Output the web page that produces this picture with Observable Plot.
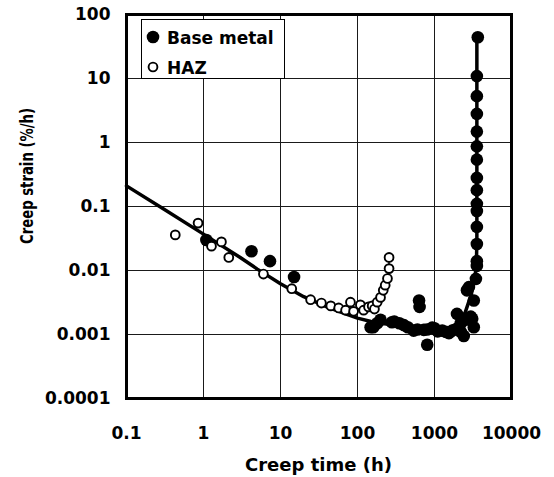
<!DOCTYPE html>
<html>
<head>
<meta charset="utf-8">
<script src="https://cdn.jsdelivr.net/npm/d3@7"></script>
<script src="https://cdn.jsdelivr.net/npm/@observablehq/plot@0.6"></script>
<style>
  html, body { margin: 0; padding: 0; background: white; }
  #wrap { position: relative; width: 554px; height: 477px; }
  #legend { position: absolute; left: 141px; top: 19px; }
</style>
</head>
<body>
<div id="wrap"></div>
<script>
// ---- data ----
const baseTime = [1.09, 4.2, 7.3, 15, 148, 160, 180, 199, 280, 300, 350, 400, 450, 536, 600, 630, 640, 727, 804, 800, 935, 1000, 1100, 1260, 1400, 1540, 1700, 1960, 2000, 2190, 2200, 2400, 2520, 2640, 2800, 2960, 3090, 3240, 3240, 3450, 3550, 3550, 3550, 3550, 3550, 3550, 3550, 3550, 3550, 3550, 3550, 3550, 3550, 3550, 3650];
const baseStrain = [0.030, 0.020, 0.014, 0.0079, 0.0013, 0.0013, 0.0015, 0.0017, 0.00155, 0.0016, 0.0015, 0.0014, 0.0013, 0.00115, 0.0012, 0.0034, 0.0027, 0.00118, 0.00069, 0.0012, 0.00128, 0.00125, 0.00112, 0.00115, 0.0011, 0.00105, 0.00115, 0.0021, 0.0012, 0.0015, 0.0011, 0.00095, 0.0017, 0.0049, 0.0055, 0.0019, 0.00176, 0.0034, 0.0013, 0.0074, 0.0118, 0.014, 0.026, 0.048, 0.085, 0.11, 0.18, 0.28, 0.54, 0.87, 1.48, 2.8, 5.3, 10.9, 44];

const hazTime = [0.43, 0.85, 1.27, 1.71, 2.13, 6.0, 14, 24.6, 34, 45, 57, 70, 81, 89, 109, 120, 139, 155, 166, 180, 199, 216, 229, 245, 257, 257];
const hazStrain = [0.036, 0.055, 0.024, 0.028, 0.016, 0.0088, 0.0052, 0.0035, 0.0031, 0.0028, 0.0026, 0.0024, 0.0032, 0.0023, 0.0029, 0.0024, 0.0027, 0.0028, 0.0025, 0.0032, 0.0038, 0.0049, 0.0059, 0.0075, 0.0107, 0.016];

const fitTime = [0.1, 0.3, 1, 3, 5, 10, 20, 40, 70, 100, 150, 200, 400, 700, 1000, 1500, 2000, 2500, 3000, 3300, 3500, 3550, 3550, 3550, 3550];
const fitStrain = [0.21, 0.092, 0.037, 0.016, 0.0105, 0.0062, 0.0039, 0.0027, 0.0021, 0.0018, 0.0016, 0.0015, 0.00135, 0.00125, 0.0012, 0.00125, 0.0015, 0.0022, 0.0042, 0.007, 0.012, 0.03, 1, 10, 44];

const hazFitTime = [30, 60, 100, 150, 190, 220, 240, 255, 258];
const hazFitStrain = [0.0029, 0.0025, 0.0024, 0.0026, 0.0032, 0.0045, 0.0065, 0.010, 0.018];

const xTicks = [0.1, 1, 10, 100, 1000, 10000];
const xTickLabels = ["0.1", "1", "10", "100", "1000", "10000"];
const yTicks = [0.0001, 0.001, 0.01, 0.1, 1, 10, 100];
const yTickLabels = ["0.0001", "0.001", "0.01", "0.1", "1", "10", "100"];

const seriesNames = ["Base metal", "HAZ"];
const xTitle = "Creep time (h)";
const yTitle = "Creep strain (%/h)";

// ---- tables ----
const base = baseTime.map((t, i) => ({t, s: baseStrain[i]}));
const haz = hazTime.map((t, i) => ({t, s: hazStrain[i]}));
const fit = fitTime.map((t, i) => ({t, s: fitStrain[i]}));
const hazFit = hazFitTime.map((t, i) => ({t, s: hazFitStrain[i]}));
const xLab = new Map(xTicks.map((d, i) => [d, xTickLabels[i]]));
const yLab = new Map(yTicks.map((d, i) => [d, yTickLabels[i]]));

const font = "'DejaVu Sans', sans-serif";

const chart = Plot.plot({
  width: 554,
  height: 477,
  marginLeft: 126,
  marginRight: 43,
  marginTop: 14,
  marginBottom: 79,
  style: {fontFamily: font, fontWeight: "bold", fontSize: "17px", color: "black", background: "white", overflow: "visible"},
  x: {type: "log", domain: [0.1, 10000]},
  y: {type: "log", domain: [0.0001, 100]},
  marks: [
    Plot.gridX(xTicks, {stroke: "#1a1a1a", strokeOpacity: 1, strokeWidth: 1}),
    Plot.gridY(yTicks, {stroke: "#1a1a1a", strokeOpacity: 1, strokeWidth: 1}),
    Plot.line(hazFit, {x: "t", y: "s", stroke: "black", strokeWidth: 1.5}),
    Plot.line(fit, {x: "t", y: "s", stroke: "black", strokeWidth: 3.5, strokeLinejoin: "round"}),
    Plot.dot(base, {x: "t", y: "s", r: 6.3, fill: "black", stroke: "none"}),
    Plot.dot(haz, {x: "t", y: "s", r: 4.4, fill: "white", stroke: "black", strokeWidth: 1.9}),
    Plot.frame({stroke: "black", strokeWidth: 3}),
    Plot.axisX(xTicks, {tickSize: 0, tickPadding: 28, tickFormat: d => xLab.get(d), label: null, fontSize: 17, fontWeight: "bold"}),
    Plot.axisY(yTicks, {tickSize: 0, tickPadding: 16, tickFormat: d => yLab.get(d), label: null, fontSize: 17, fontWeight: "bold"})
  ]
});

const svg = d3.select(chart);
svg.append("text")
  .attr("x", 318.5).attr("y", 471)
  .attr("text-anchor", "middle")
  .attr("font-family", font).attr("font-weight", "bold").attr("font-size", 18)
  .attr("fill", "black")
  .text(xTitle);
svg.append("text")
  .attr("transform", "translate(33,176) rotate(-90)")
  .attr("text-anchor", "middle")
  .attr("textLength", 136).attr("lengthAdjust", "spacingAndGlyphs")
  .attr("font-family", font).attr("font-weight", "bold").attr("font-size", 17)
  .attr("fill", "black")
  .text(yTitle);

const wrap = document.getElementById("wrap");
wrap.appendChild(chart);

// legend
const leg = d3.create("svg").attr("id", "legend").attr("width", 145).attr("height", 61);
leg.append("rect").attr("x", 0.5).attr("y", 0.5).attr("width", 143).attr("height", 59)
  .attr("fill", "white").attr("stroke", "black").attr("stroke-width", 1);
leg.append("circle").attr("cx", 12).attr("cy", 18).attr("r", 6.3).attr("fill", "black");
leg.append("circle").attr("cx", 12).attr("cy", 48).attr("r", 4.4).attr("fill", "white").attr("stroke", "black").attr("stroke-width", 1.9);
leg.selectAll("text.lab").data(seriesNames).join("text")
  .attr("x", 26).attr("y", (d, i) => 25 + i * 30)
  .attr("font-family", font).attr("font-weight", "bold").attr("font-size", 17)
  .attr("fill", "black")
  .text(d => d);
wrap.appendChild(leg.node());
</script>
</body>
</html>
